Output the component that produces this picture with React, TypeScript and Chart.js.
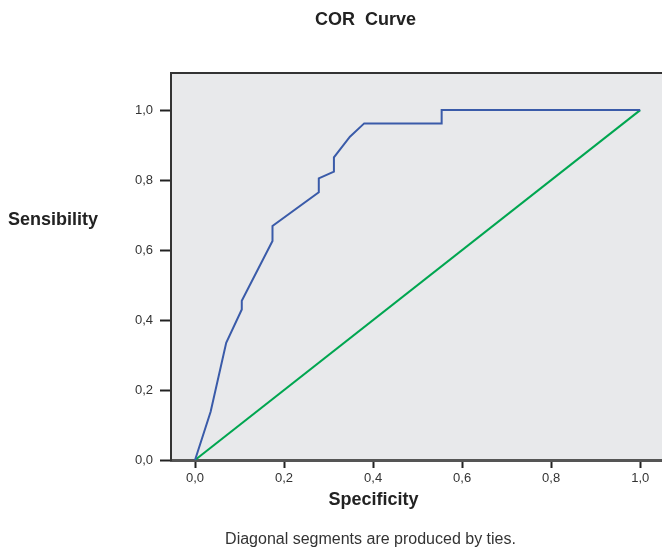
import React, { useEffect, useRef } from 'react';
import { Chart, registerables } from 'chart.js';

Chart.register(...registerables);

// ---- Data ----
const rocSpecificity = [0, 0.035, 0.07, 0.105, 0.105, 0.174, 0.174, 0.278, 0.278, 0.312, 0.312, 0.348, 0.38, 0.554, 0.554, 1.0];
const rocSensibility = [0, 0.138, 0.335, 0.43, 0.455, 0.626, 0.669, 0.765, 0.805, 0.824, 0.865, 0.924, 0.962, 0.962, 1.0, 1.0];
const referenceX = [0, 1];
const referenceY = [0, 1];
const xTickValues = [0, 0.2, 0.4, 0.6, 0.8, 1.0];
const yTickValues = [0, 0.2, 0.4, 0.6, 0.8, 1.0];
const xRange = [-0.054, 1.049];
const yRange = [0, 1.106];

const chartTitle = 'COR  Curve';
const xTitle = 'Specificity';
const yTitle = 'Sensibility';
const footnote = 'Diagonal segments are produced by ties.';

const FONT = '"Liberation Sans", Arial, Helvetica, sans-serif';

const fmt = (v: number) => v.toFixed(1).replace('.', ',');

const decorPlugin = {
  id: 'decor',
  beforeDraw(chart: any) {
    const { ctx, chartArea } = chart;
    ctx.save();
    ctx.fillStyle = '#e8e9eb';
    ctx.fillRect(chartArea.left, chartArea.top, chartArea.right - chartArea.left, chartArea.bottom - chartArea.top);
    ctx.restore();
  },
  afterDraw(chart: any) {
    const { ctx, chartArea } = chart;
    ctx.save();
    // top border
    ctx.strokeStyle = '#333333';
    ctx.lineWidth = 2;
    ctx.beginPath();
    ctx.moveTo(chartArea.left - 1, chartArea.top);
    ctx.lineTo(chartArea.right, chartArea.top);
    ctx.stroke();

    ctx.fillStyle = '#222222';
    ctx.textAlign = 'center';
    ctx.textBaseline = 'middle';
    ctx.font = `bold 18px ${FONT}`;
    ctx.fillText(chartTitle, 365.5, 20);
    ctx.fillText(xTitle, 373.5, 500);
    ctx.textAlign = 'left';
    ctx.fillText(yTitle, 8, 220);

    ctx.fillStyle = '#333333';
    ctx.textAlign = 'center';
    ctx.font = `16px ${FONT}`;
    ctx.fillText(footnote, 370.5, 540);
    ctx.restore();
  },
};

export default function App() {
  const canvasRef = useRef<HTMLCanvasElement | null>(null);

  useEffect(() => {
    if (!canvasRef.current) return;
    const chart = new Chart(canvasRef.current, {
      type: 'scatter',
      data: {
        datasets: [
          {
            label: 'ROC',
            data: rocSpecificity.map((x, i) => ({ x, y: rocSensibility[i] })),
            showLine: true,
            borderColor: '#3a5ba9',
            borderWidth: 2,
            pointRadius: 0,
            tension: 0,
            borderJoinStyle: 'miter',
            clip: false as any,
          },
          {
            label: 'Reference',
            data: referenceX.map((x, i) => ({ x, y: referenceY[i] })),
            showLine: true,
            borderColor: '#00a650',
            borderWidth: 2,
            pointRadius: 0,
            tension: 0,
          },
        ],
      },
      options: {
        animation: false,
        responsive: false,
        devicePixelRatio: 1,
        layout: { padding: { top: 73, left: 0, right: 0, bottom: 0 } },
        plugins: {
          legend: { display: false },
          tooltip: { enabled: false },
          title: { display: false },
        },
        scales: {
          x: {
            type: 'linear',
            min: xRange[0],
            max: xRange[1],
            afterFit: (scale: any) => {
              scale.height = 90;
            },
            afterBuildTicks: (scale: any) => {
              scale.ticks = xTickValues.map((v) => ({ value: v }));
            },
            grid: {
              drawOnChartArea: false,
              drawTicks: true,
              tickLength: 8,
              tickColor: '#222222',
              tickWidth: 2,
            },
            border: { display: true, color: '#555555', width: 3 },
            ticks: {
              padding: 3,
              color: '#333333',
              font: { family: FONT, size: 13 },
              maxRotation: 0,
              autoSkip: false,
              callback: (v: any) => fmt(Number(v)),
            },
          },
          y: {
            type: 'linear',
            min: yRange[0],
            max: yRange[1],
            afterFit: (scale: any) => {
              scale.width = 171;
            },
            afterBuildTicks: (scale: any) => {
              scale.ticks = yTickValues.map((v) => ({ value: v }));
            },
            grid: {
              drawOnChartArea: false,
              drawTicks: true,
              tickLength: 11,
              tickColor: '#222222',
              tickWidth: 2,
            },
            border: { display: true, color: '#333333', width: 2 },
            ticks: {
              padding: 7,
              color: '#333333',
              font: { family: FONT, size: 13 },
              autoSkip: false,
              callback: (v: any) => fmt(Number(v)),
            },
          },
        },
      },
      plugins: [decorPlugin],
    });
    return () => chart.destroy();
  }, []);

  return (
    <div style={{ position: 'absolute', left: 0, top: 0, width: 662, height: 550, background: '#ffffff' }}>
      <canvas ref={canvasRef} width={662} height={550} />
    </div>
  );
}
